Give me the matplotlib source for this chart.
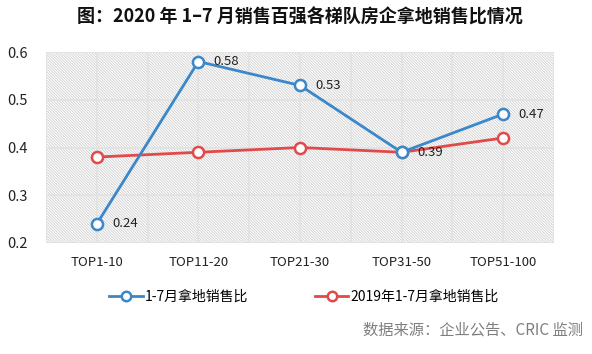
import matplotlib
matplotlib.use("Agg")
import matplotlib.pyplot as plt
from matplotlib.patches import Rectangle

plt.rcParams['font.family'] = ['Noto Sans CJK SC', 'DejaVu Sans']
plt.rcParams['hatch.linewidth'] = 0.6

categories = ["TOP1-10", "TOP11-20", "TOP21-30", "TOP31-50", "TOP51-100"]
ratio_2020 = [0.24, 0.58, 0.53, 0.39, 0.47]
ratio_2019 = [0.38, 0.39, 0.40, 0.39, 0.42]
series_names = ["1-7月拿地销售比", "2019年1-7月拿地销售比"]
yticks = [0.2, 0.3, 0.4, 0.5, 0.6]

blue = '#3a87c9'
red = '#e04a4a'

fig = plt.figure(figsize=(5.92, 3.54), dpi=100)
ax = fig.add_axes([46/592, 1 - 243/354, (554-46)/592, (243-52)/354])

x = list(range(len(categories)))
ax.set_xlim(-0.5, len(categories) - 0.5)
ax.set_ylim(0.2, 0.6)

# hatched background
ax.add_patch(Rectangle((0, 0), 1, 1, transform=ax.transAxes, facecolor='white',
                       edgecolor='#cfcfcf', linewidth=0, hatch='\\' * 12, zorder=0))
# gridlines
for gx in [i * 0.5 - 0.5 for i in range(2 * len(categories) + 1)]:
    ax.axvline(gx, color='#e2e2e2', lw=1.2, zorder=1)
for gy in yticks:
    ax.axhline(gy, color='#e2e2e2', lw=1.2, zorder=1)

ax.plot(x, ratio_2019, color=red, lw=2, marker='o', ms=8, mfc='white',
        mec=red, mew=1.8, zorder=3, label=series_names[1])
ax.plot(x, ratio_2020, color=blue, lw=2, marker='o', ms=8, mfc='white',
        mec=blue, mew=1.8, zorder=4, label=series_names[0])

for xi, v in zip(x, ratio_2020):
    ax.annotate(f"{v:.2f}", (xi, v), xytext=(11, 0), textcoords='offset points',
                va='center', ha='left', fontsize=9.5, color='#222222', zorder=5)

ax.set_xticks(x)
ax.set_xticklabels(categories, fontsize=9.5, color='#222222')
ax.set_yticks(yticks)
ax.set_yticklabels([f"{v:.1f}" for v in yticks], fontsize=10.5, color='#222222')
ax.tick_params(length=0)
ax.tick_params(axis='x', pad=9)
ax.tick_params(axis='y', pad=13)
for s in ax.spines.values():
    s.set_visible(False)

handles, labels = ax.get_legend_handles_labels()
leg = fig.legend(handles[::-1], labels[::-1], loc='center', bbox_to_anchor=(304/592, 1 - 297/354),
                 ncol=2, frameon=False, fontsize=10, handlelength=2.4, columnspacing=4.8,
                 handletextpad=0.15, markerscale=0.85)

fig.text(300/592, 1 - 17/354, "图：2020 年 1–7 月销售百强各梯队房企拿地销售比情况",
         ha='center', va='center', fontsize=13, fontweight='bold', color='#111111')
fig.text(583/592, 1 - 330/354, "数据来源：企业公告、CRIC 监测",
         ha='right', va='center', fontsize=11, color='#7f7f7f')

fig.savefig("out.png", dpi=100)
